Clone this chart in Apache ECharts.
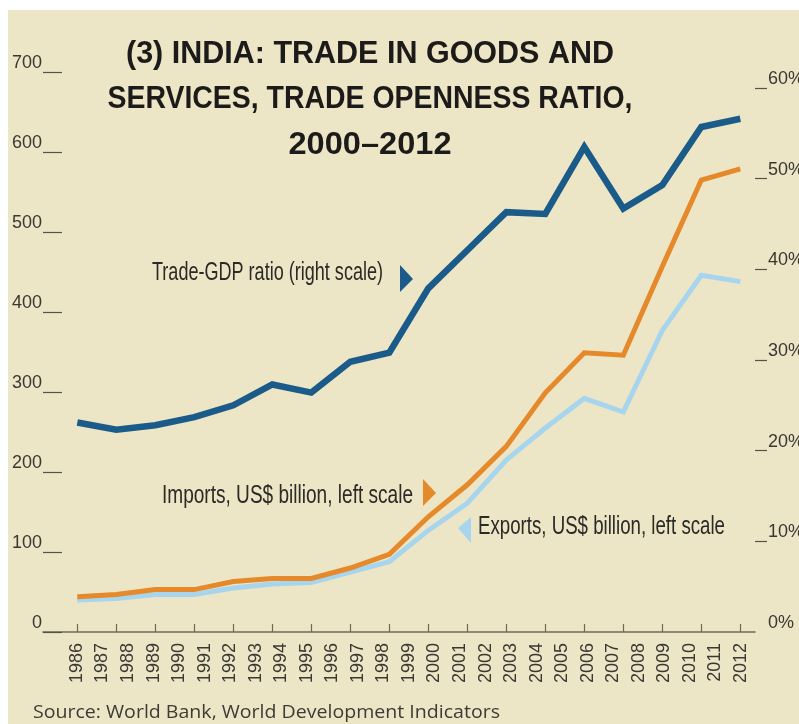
<!DOCTYPE html>
<html>
<head>
<meta charset="utf-8">
<title>India: trade in goods and services, trade openness ratio</title>
<script src="https://cdn.jsdelivr.net/npm/echarts@6/dist/echarts.min.js"></script>
<style>
  html, body { margin: 0; padding: 0; background: #ffffff; }
  #chart { width: 799px; height: 724px; }
</style>
</head>
<body>
<div id="chart"></div>
<script>
// Year labels printed under the axis
const yearLabels = ['1986', '1987', '1988', '1989', '1990', '1991', '1992', '1993', '1994',
  '1995', '1996', '1997', '1998', '1999', '2000', '2001', '2002', '2003', '2004', '2005',
  '2006', '2007', '2008', '2009', '2010', '2011', '2012'];

// Observations, one per tick on the axis (18 points)
const tradeGdpRatio = [23.1, 22.3, 22.8, 23.7, 25.0, 27.3, 26.4, 29.8, 30.8, 37.9, 42.1, 46.3, 46.1, 53.5, 46.7, 49.3, 55.7, 56.6];
const importsBn = [44, 47, 53, 53, 63, 67, 67, 80, 97, 144, 184, 232, 299, 349, 346, 457, 565, 579];
const exportsBn = [40, 42, 47, 47, 55, 60, 62, 75, 88, 127, 161, 215, 255, 292, 275, 377, 446, 438];

// Axis ticks
const leftTicks = [0, 100, 200, 300, 400, 500, 600, 700];
const rightTicks = [0, 10, 20, 30, 40, 50, 60];

const titleLines = ['(3) INDIA: TRADE IN GOODS AND', 'SERVICES, TRADE OPENNESS RATIO,', '2000\u20132012'];
const ratioNote = 'Trade-GDP ratio (right scale)';
const importsNote = 'Imports, US$ billion, left scale';
const exportsNote = 'Exports, US$ billion, left scale';
const sourceNote = 'Source: World Bank, World Development Indicators';

const SANS = '"Liberation Sans", Arial, sans-serif';
const INK = '#2b2a26';
const BLUE = '#1b5b89';
const ORANGE = '#e5892b';
const LIGHT_BLUE = '#a8d5ee';

// The printed lettering is a condensed face; squeeze a regular face horizontally
// so that each text block occupies the wanted width.
const measureCtx = document.createElement('canvas').getContext('2d');
function squeeze(text, font, width) {
  measureCtx.font = font;
  return width / measureCtx.measureText(text).width;
}

const titleFont = 'bold 32px ' + SANS;
const noteFont = '25px ' + SANS;
const sourceFont = '18px "Open Sans", sans-serif';

// Title block: centre x, top of first line, line step, printed width of each line
const titleCenter = 370;
const titleTop = 38;
const titleStep = 45.5;
const titleWidths = [488, 525, 163];

const titleGraphics = titleLines.map((line, i) => ({
  type: 'text',
  x: titleCenter,
  y: titleTop + i * titleStep,
  scaleX: squeeze(line, titleFont, titleWidths[i]),
  style: {
    text: line,
    font: titleFont,
    fill: '#1c1b19',
    align: 'center',
    verticalAlign: 'top'
  }
}));

const slots = importsBn.map((_, i) => i);
const toPairs = arr => arr.map((v, i) => [slots[i], v]);

const chart = echarts.init(document.getElementById('chart'), null, { renderer: 'canvas' });

chart.setOption({
  backgroundColor: '#ffffff',
  animation: false,
  grid: { left: 43, right: 44, top: 72, bottom: 92, containLabel: false, outerBoundsMode: 'none' },
  xAxis: [
    {
      // observation axis: carries the line points and the short ticks
      type: 'value',
      min: -0.88,
      max: 17.377,
      axisLine: { show: true, onZero: false, lineStyle: { color: '#6f6a57', width: 1.5 } },
      axisTick: { show: true, inside: true, length: 8, customValues: slots, lineStyle: { color: '#6f6a57', width: 1.2 } },
      axisLabel: { show: false },
      splitLine: { show: false }
    },
    {
      // year labels
      type: 'value',
      position: 'bottom',
      min: 1984.67,
      max: 2012.55,
      axisLine: { show: false, onZero: false },
      axisTick: { show: false },
      splitLine: { show: false },
      axisLabel: {
        show: true,
        rotate: 90,
        margin: 11,
        customValues: yearLabels.map(Number),
        formatter: v => yearLabels[yearLabels.indexOf(String(Math.round(v)))],
        color: '#3a3833',
        fontFamily: SANS,
        fontSize: 18
      }
    }
  ],
  yAxis: [
    {
      type: 'value',
      position: 'left',
      min: 0,
      max: 700,
      interval: 100,
      axisLine: { show: false, onZero: false },
      axisTick: { show: true, inside: true, length: 19, customValues: leftTicks, lineStyle: { color: '#55524a', width: 1.2 } },
      axisLabel: {
        show: true,
        customValues: leftTicks,
        margin: 1,
        verticalAlign: 'bottom',
        color: '#3a3833',
        fontFamily: SANS,
        fontSize: 18
      },
      splitLine: { show: false }
    },
    {
      type: 'value',
      position: 'right',
      min: 0,
      max: 61.76,
      axisLine: { show: false, onZero: false },
      axisTick: { show: true, inside: false, length: 12, customValues: rightTicks.slice(1), lineStyle: { color: '#55524a', width: 1.2 } },
      axisLabel: {
        show: true,
        customValues: rightTicks,
        margin: 13,
        verticalAlign: 'bottom',
        formatter: v => v + '%',
        color: '#3a3833',
        fontFamily: SANS,
        fontSize: 18
      },
      splitLine: { show: false }
    }
  ],
  series: [
    {
      name: 'Exports, US$ billion',
      type: 'line',
      xAxisIndex: 0,
      yAxisIndex: 0,
      data: toPairs(exportsBn),
      symbol: 'none',
      lineStyle: { color: LIGHT_BLUE, width: 5, join: 'miter' }
    },
    {
      name: 'Imports, US$ billion',
      type: 'line',
      xAxisIndex: 0,
      yAxisIndex: 0,
      data: toPairs(importsBn),
      symbol: 'none',
      lineStyle: { color: ORANGE, width: 5, join: 'miter' }
    },
    {
      name: 'Trade-GDP ratio',
      type: 'line',
      xAxisIndex: 0,
      yAxisIndex: 1,
      data: toPairs(tradeGdpRatio),
      symbol: 'none',
      lineStyle: { color: BLUE, width: 6.5, join: 'miter' }
    }
  ],
  graphic: [
    {
      type: 'rect', z: -10, silent: true,
      shape: { x: 8, y: 10, width: 791, height: 714 },
      style: { fill: '#ece6c6' }
    },
    ...titleGraphics,
    {
      type: 'text', x: 152, y: 273,
      scaleX: squeeze(ratioNote, noteFont, 231),
      style: { text: ratioNote, font: noteFont, fill: INK, verticalAlign: 'middle' }
    },
    {
      type: 'polygon',
      shape: { points: [[400, 265], [413, 279], [400, 292]] },
      style: { fill: BLUE }
    },
    {
      type: 'text', x: 162, y: 496,
      scaleX: squeeze(importsNote, noteFont, 251),
      style: { text: importsNote, font: noteFont, fill: INK, verticalAlign: 'middle' }
    },
    {
      type: 'polygon',
      shape: { points: [[423, 479], [436, 493], [423, 506]] },
      style: { fill: ORANGE }
    },
    {
      type: 'text', x: 478, y: 527,
      scaleX: squeeze(exportsNote, noteFont, 247),
      style: { text: exportsNote, font: noteFont, fill: INK, verticalAlign: 'middle' }
    },
    {
      type: 'polygon',
      shape: { points: [[471, 517], [471, 543], [458, 528]] },
      style: { fill: LIGHT_BLUE }
    },
    {
      type: 'text', x: 33, y: 713,
      scaleX: squeeze(sourceNote, sourceFont, 467),
      style: { text: sourceNote, font: sourceFont, fill: '#3d3b36', verticalAlign: 'middle' }
    }
  ]
});
</script>
</body>
</html>
